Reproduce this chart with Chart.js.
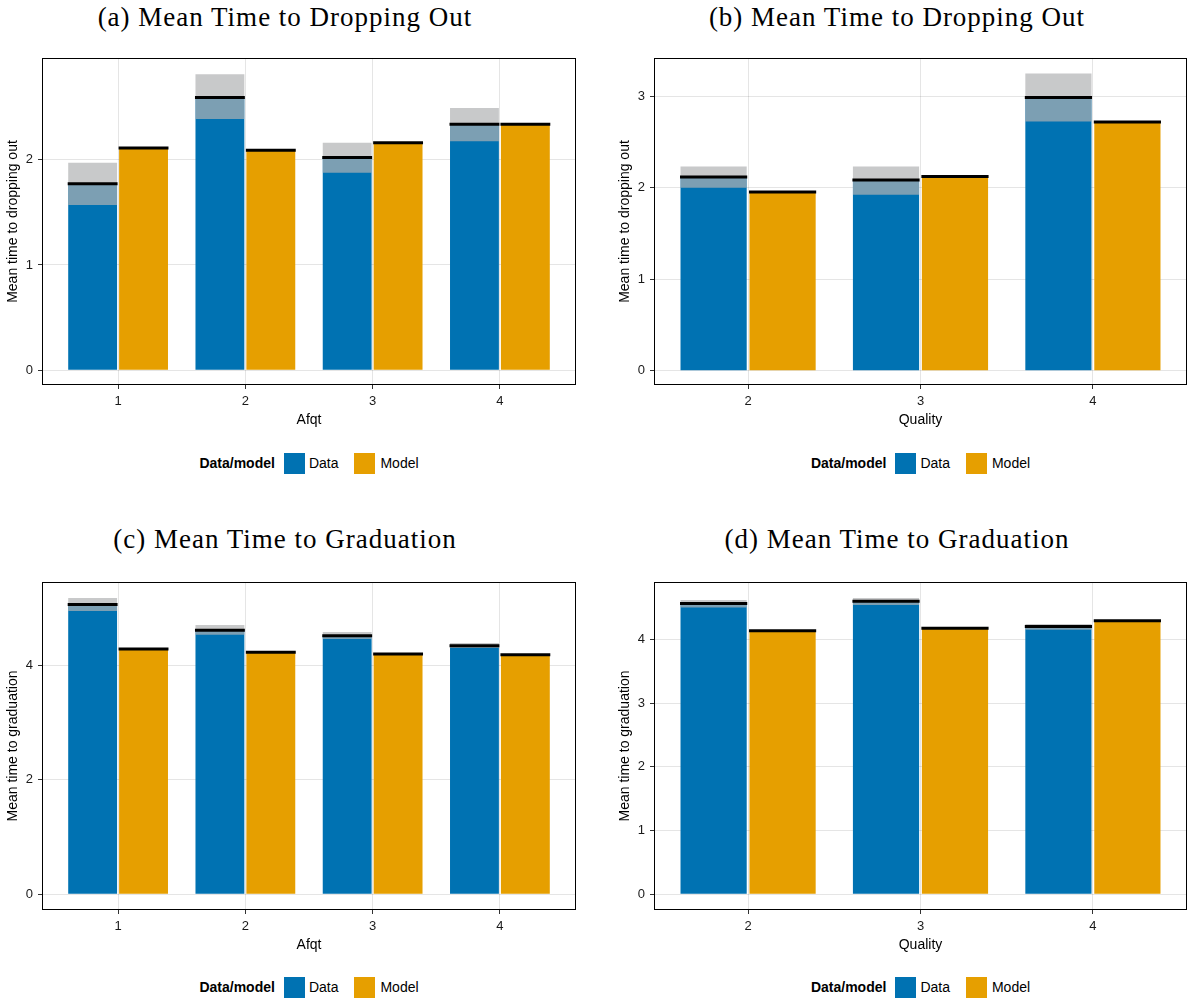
<!DOCTYPE html>
<html>
<head>
<meta charset="utf-8">
<script src="https://cdn.jsdelivr.net/npm/chart.js@4/dist/chart.umd.min.js"></script>
<style>
  html, body { margin: 0; padding: 0; background: #fff; }
  body { width: 1188px; height: 1000px; position: relative; overflow: hidden;
         font-family: "Liberation Sans", Arial, sans-serif; }
  .title { position: absolute; width: 570px; text-align: center; line-height: 34px;
           font-family: "Liberation Serif", "Times New Roman", serif; font-size: 27px;
           letter-spacing: 1px; color: #000; white-space: nowrap; }
  canvas { position: absolute; }
  .legend { position: absolute; height: 22px; display: flex; align-items: center;
            justify-content: center; font-size: 14px; color: #000; }
  .legend b { margin-right: 9px; }
  .legend .sw { display: inline-block; width: 21px; height: 21px; }
</style>
</head>
<body>
<script>
// ---- categories and tick labels ----
const afqtCategories = [1, 2, 3, 4];
const qualityCategories = [2, 3, 4];
const dropoutTicksAfqt = [0, 1, 2];
const dropoutTicksQuality = [0, 1, 2, 3];
const gradTicksAfqt = [0, 2, 4];
const gradTicksQuality = [0, 1, 2, 3, 4];

// ---- (a) mean time to dropping out, by Afqt ----
const dropAfqtMean  = [1.77, 2.59, 2.02, 2.335];
const dropAfqtLow   = [1.57, 2.385, 1.875, 2.175];
const dropAfqtHigh  = [1.97, 2.81, 2.16, 2.49];
const dropAfqtModel = [2.11, 2.09, 2.16, 2.335];

// ---- (b) mean time to dropping out, by Quality ----
const dropQualMean  = [2.12, 2.085, 2.99];
const dropQualLow   = [2.00, 1.925, 2.725];
const dropQualHigh  = [2.235, 2.235, 3.25];
const dropQualModel = [1.955, 2.125, 2.72];

// ---- (c) mean time to graduation, by Afqt ----
const gradAfqtMean  = [5.07, 4.62, 4.525, 4.35];
const gradAfqtLow   = [4.955, 4.54, 4.465, 4.31];
const gradAfqtHigh  = [5.185, 4.71, 4.59, 4.395];
const gradAfqtModel = [4.29, 4.235, 4.205, 4.19];

// ---- (d) mean time to graduation, by Quality ----
const gradQualMean  = [4.56, 4.595, 4.20];
const gradQualLow   = [4.497, 4.538, 4.151];
const gradQualHigh  = [4.617, 4.648, 4.24];
const gradQualModel = [4.135, 4.175, 4.29];

const seriesNames = ['Data', 'Model'];
const legendTitle = 'Data/model';

// ---- styling ----
const SANS = '"Liberation Sans", Arial, sans-serif';
const dataColor = '#0072B2';
const modelColor = '#E69F00';
const bandColor = 'rgba(177,178,179,0.7)';
const gridColor = 'rgba(0,0,0,0.10)';
const tickMarkColor = '#333';

Chart.defaults.font.family = SANS;

// Frame around the plotting area
const framePlugin = {
  id: 'frame',
  afterDraw(chart) {
    const { ctx, chartArea: a } = chart;
    ctx.save();
    ctx.strokeStyle = '#000';
    ctx.lineWidth = 1;
    ctx.strokeRect(a.left - 0.5, a.top - 0.5, a.right - a.left + 1, a.bottom - a.top + 1);
    ctx.restore();
  }
};

// Black horizontal line at the mean of each bar
const meanLinePlugin = {
  id: 'meanLines',
  afterDatasetsDraw(chart) {
    const { ctx } = chart;
    const yScale = chart.scales.y;
    chart.data.datasets.forEach((ds, i) => {
      if (!ds.meanLine) return;
      const meta = chart.getDatasetMeta(i);
      ctx.save();
      ctx.strokeStyle = '#000';
      ctx.lineWidth = 3;
      meta.data.forEach((bar, j) => {
        const py = yScale.getPixelForValue(ds.data[j].y);
        ctx.beginPath();
        ctx.moveTo(bar.x - bar.width / 2 - 0.5, py);
        ctx.lineTo(bar.x + bar.width / 2 + 0.5, py);
        ctx.stroke();
      });
      ctx.restore();
    });
  }
};

const TOP_PAD = 14, X_AXIS_H = 45, Y_AXIS_W = 43;

const panels = [
  { title: '(a) Mean Time to Dropping Out', titleLeft: 0, titleTop: 0,
    left: 0, plotTop: 59, width: 594, plotH: 325, padL: 0, padR: 19,
    cats: afqtCategories, yTicks: dropoutTicksAfqt,
    mean: dropAfqtMean, low: dropAfqtLow, high: dropAfqtHigh, model: dropAfqtModel,
    yMin: -0.13, yMax: 2.955, yTitle: 'Mean time to dropping out', xTitle: 'Afqt', legendTop: 452 },
  { title: '(b) Mean Time to Dropping Out', titleLeft: 612, titleTop: 0,
    left: 594, plotTop: 59, width: 594, plotH: 325, padL: 18, padR: 2,
    cats: qualityCategories, yTicks: dropoutTicksQuality,
    mean: dropQualMean, low: dropQualLow, high: dropQualHigh, model: dropQualModel,
    yMin: -0.146, yMax: 3.41, yTitle: 'Mean time to dropping out', xTitle: 'Quality', legendTop: 452 },
  { title: '(c) Mean Time to Graduation', titleLeft: 0, titleTop: 522,
    left: 0, plotTop: 583, width: 594, plotH: 326, padL: 0, padR: 19,
    cats: afqtCategories, yTicks: gradTicksAfqt,
    mean: gradAfqtMean, low: gradAfqtLow, high: gradAfqtHigh, model: gradAfqtModel,
    yMin: -0.26, yMax: 5.447, yTitle: 'Mean time to graduation', xTitle: 'Afqt', legendTop: 976 },
  { title: '(d) Mean Time to Graduation', titleLeft: 612, titleTop: 522,
    left: 594, plotTop: 583, width: 594, plotH: 326, padL: 18, padR: 2,
    cats: qualityCategories, yTicks: gradTicksQuality,
    mean: gradQualMean, low: gradQualLow, high: gradQualHigh, model: gradQualModel,
    yMin: -0.23, yMax: 4.883, yTitle: 'Mean time to graduation', xTitle: 'Quality', legendTop: 976 }
];

function addLegend(p) {
  const plotLeft = p.left + p.padL + Y_AXIS_W;
  const plotRight = p.left + p.width - p.padR;
  const div = document.createElement('div');
  div.className = 'legend';
  div.style.left = plotLeft + 'px';
  div.style.width = (plotRight - plotLeft) + 'px';
  div.style.top = p.legendTop + 'px';
  const b = document.createElement('b');
  b.textContent = legendTitle;
  div.appendChild(b);
  [dataColor, modelColor].forEach((c, i) => {
    const sw = document.createElement('span');
    sw.className = 'sw';
    sw.style.background = c;
    if (i > 0) sw.style.marginLeft = '16px';
    const t = document.createElement('span');
    t.textContent = seriesNames[i];
    t.style.marginLeft = i === 0 ? '4px' : '5px';
    div.appendChild(sw);
    div.appendChild(t);
  });
  document.body.appendChild(div);
}

function makePanel(p) {
  const title = document.createElement('div');
  title.className = 'title';
  title.style.left = p.titleLeft + 'px';
  title.style.top = p.titleTop + 'px';
  title.textContent = p.title;
  document.body.appendChild(title);

  const canvas = document.createElement('canvas');
  canvas.width = p.width;
  canvas.height = TOP_PAD + p.plotH + X_AXIS_H;
  canvas.style.left = p.left + 'px';
  canvas.style.top = (p.plotTop - TOP_PAD) + 'px';
  document.body.appendChild(canvas);

  // x limits: bar extent (±0.4 around the outer categories) plus a 5% margin
  const lo = p.cats[0] - 0.4, hi = p.cats[p.cats.length - 1] + 0.4;
  const xMargin = 0.05 * (hi - lo);

  new Chart(canvas, {
    type: 'bar',
    data: {
      datasets: [
        { label: seriesNames[0], stack: 'data', order: 2, meanLine: true,
          data: p.cats.map((c, i) => ({ x: c, y: p.mean[i] })),
          backgroundColor: dataColor },
        { label: seriesNames[0] + ' interval', stack: 'data', order: 1,
          data: p.cats.map((c, i) => ({ x: c, y: [p.low[i], p.high[i]] })),
          backgroundColor: bandColor },
        { label: seriesNames[1], stack: 'model', order: 2, meanLine: true,
          data: p.cats.map((c, i) => ({ x: c, y: p.model[i] })),
          backgroundColor: modelColor }
      ]
    },
    options: {
      responsive: false,
      animation: false,
      events: [],
      layout: { padding: { top: TOP_PAD, left: p.padL, right: p.padR, bottom: 0 } },
      plugins: { legend: { display: false }, tooltip: { enabled: false }, title: { display: false } },
      datasets: { bar: { categoryPercentage: 0.8, barPercentage: 0.96, borderWidth: 0 } },
      scales: {
        x: {
          type: 'linear', offset: false, bounds: 'data',
          min: lo - xMargin, max: hi + xMargin,
          afterBuildTicks: s => { s.ticks = p.cats.map(v => ({ value: v })); },
          afterFit: s => { s.height = X_AXIS_H; },
          grid: { offset: false, color: gridColor, tickColor: tickMarkColor, tickLength: 5, lineWidth: 1 },
          border: { display: false },
          ticks: { padding: 5, color: '#1a1a1a', font: { size: 13 } },
          title: { display: true, text: p.xTitle, color: '#000', font: { size: 14 },
                   padding: { top: 0, bottom: 0 } }
        },
        y: {
          type: 'linear', stacked: false, bounds: 'data', beginAtZero: false,
          min: p.yMin, max: p.yMax,
          afterBuildTicks: s => { s.ticks = p.yTicks.map(v => ({ value: v })); },
          afterFit: s => { s.width = Y_AXIS_W; },
          grid: { color: gridColor, tickColor: tickMarkColor, tickLength: 5, lineWidth: 1 },
          border: { display: false },
          ticks: { padding: 5, color: '#1a1a1a', font: { size: 13 } },
          title: { display: true, text: p.yTitle, color: '#000', font: { size: 14 },
                   padding: { top: 5, bottom: 0 } }
        }
      }
    },
    plugins: [framePlugin, meanLinePlugin]
  });

  addLegend(p);
}

panels.forEach(makePanel);
</script>
</body>
</html>
